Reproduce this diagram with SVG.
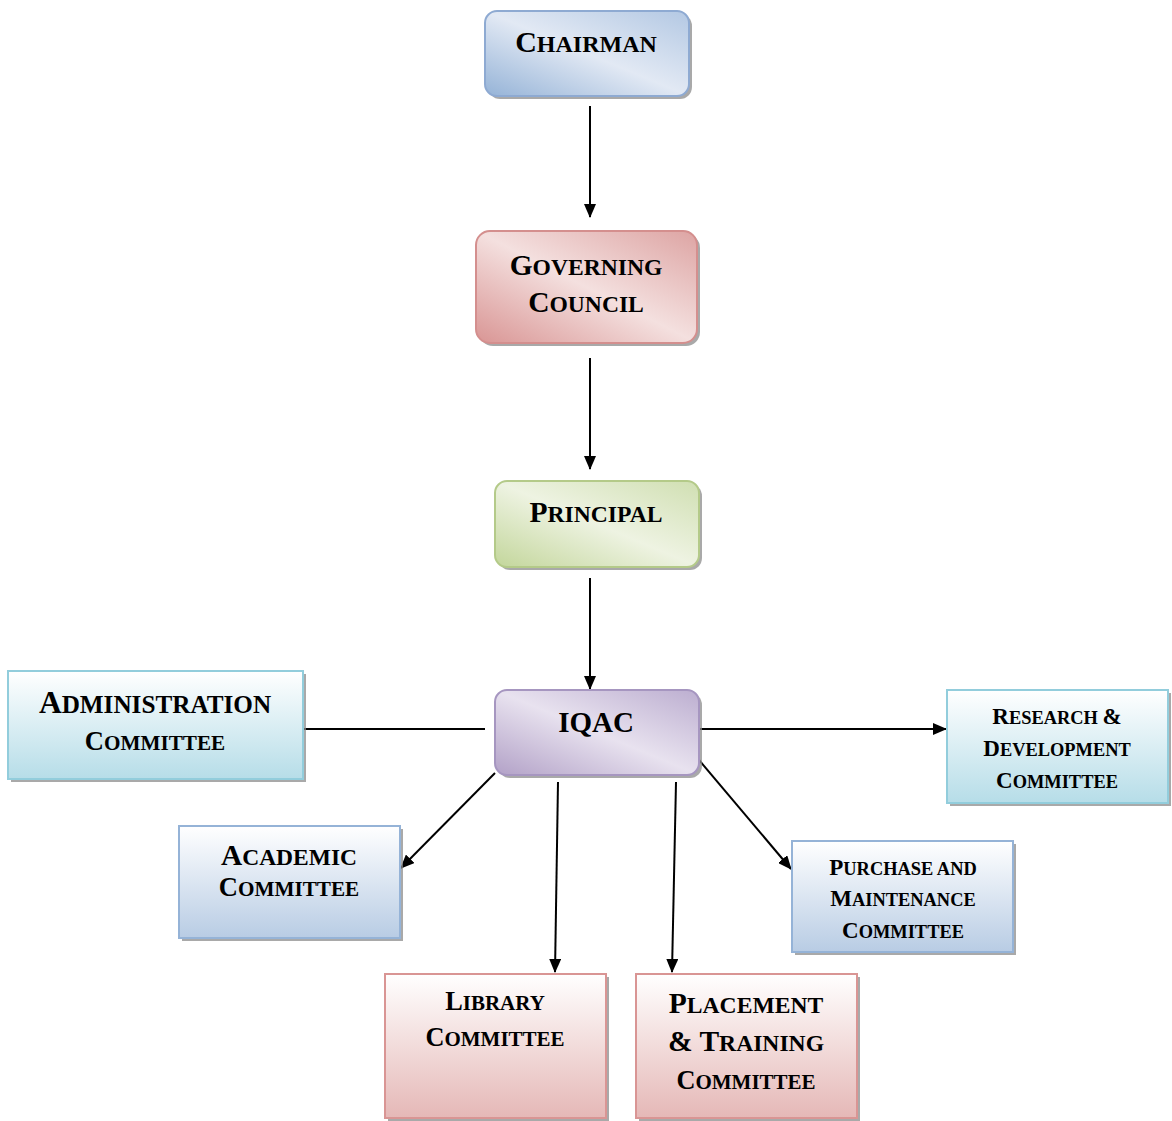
<svg xmlns="http://www.w3.org/2000/svg" width="1172" height="1121" viewBox="0 0 1172 1121">
<style>
text{font-family:"Liberation Serif","Times New Roman",serif;font-weight:bold;fill:#000;text-anchor:middle}
.sh{fill:#8c8c8c;opacity:0.75}
.conn{stroke:#000;stroke-width:2;fill:none}
</style>
<defs>
<linearGradient id="gBlue" x1="0" y1="1" x2="1" y2="0"><stop offset="0" stop-color="#95b3d7"/><stop offset="0.5" stop-color="#e2e9f4"/><stop offset="1" stop-color="#b3c8e3"/></linearGradient>
<linearGradient id="gRed" x1="0" y1="1" x2="1" y2="0"><stop offset="0" stop-color="#d99594"/><stop offset="0.5" stop-color="#f4e0df"/><stop offset="1" stop-color="#dda4a3"/></linearGradient>
<linearGradient id="gGreen" x1="0" y1="1" x2="1" y2="0"><stop offset="0" stop-color="#c3d69b"/><stop offset="0.5" stop-color="#eef3e2"/><stop offset="1" stop-color="#d0dfb2"/></linearGradient>
<linearGradient id="gPurple" x1="0" y1="1" x2="1" y2="0"><stop offset="0" stop-color="#b2a1c7"/><stop offset="0.5" stop-color="#e8e2ef"/><stop offset="1" stop-color="#bcaed0"/></linearGradient>
<linearGradient id="vAqua" x1="0" y1="0" x2="0" y2="1"><stop offset="0" stop-color="#ffffff"/><stop offset="1" stop-color="#b6dde8"/></linearGradient>
<linearGradient id="vBlue" x1="0" y1="0" x2="0" y2="1"><stop offset="0" stop-color="#ffffff"/><stop offset="1" stop-color="#b8cce4"/></linearGradient>
<linearGradient id="vRed" x1="0" y1="0" x2="0" y2="1"><stop offset="0" stop-color="#ffffff"/><stop offset="1" stop-color="#e5b8b7"/></linearGradient>
<marker id="arr" markerWidth="14" markerHeight="12" refX="13" refY="6" orient="auto" markerUnits="userSpaceOnUse"><path d="M0,0 L14,6 L0,12 Z" fill="#000"/></marker>
</defs>

<g id="connectors">
<line class="conn" x1="590" y1="106" x2="590" y2="217" marker-end="url(#arr)"/>
<line class="conn" x1="590" y1="358" x2="590" y2="469" marker-end="url(#arr)"/>
<line class="conn" x1="590" y1="578" x2="590" y2="689" marker-end="url(#arr)"/>
<line class="conn" x1="304" y1="729" x2="485" y2="729"/>
<line class="conn" x1="699" y1="729" x2="946" y2="729" marker-end="url(#arr)"/>
<line class="conn" x1="495" y1="773" x2="401" y2="868" marker-end="url(#arr)"/>
<line class="conn" x1="558" y1="782" x2="555" y2="972" marker-end="url(#arr)"/>
<line class="conn" x1="676" y1="782" x2="672" y2="972" marker-end="url(#arr)"/>
<line class="conn" x1="699" y1="760" x2="791" y2="869" marker-end="url(#arr)"/>
</g>

<g id="chairman">
<rect class="sh" x="488" y="14" width="204" height="85" rx="12"/>
<rect x="485" y="11" width="204" height="85" rx="12" fill="url(#gBlue)" stroke="#8eaad2" stroke-width="2"/>
<text x="586" y="52"><tspan font-size="30">C</tspan><tspan font-size="24">HAIRMAN</tspan></text>
</g>

<g id="governing-council">
<rect class="sh" x="479" y="234" width="221" height="112" rx="14"/>
<rect x="476" y="231" width="221" height="112" rx="14" fill="url(#gRed)" stroke="#d48f8e" stroke-width="2"/>
<text x="586" y="275"><tspan font-size="29.5">G</tspan><tspan font-size="23.6">OVERNING</tspan></text>
<text x="586" y="312"><tspan font-size="29.5">C</tspan><tspan font-size="23.6">OUNCIL</tspan></text>
</g>

<g id="principal">
<rect class="sh" x="498" y="484" width="204" height="86" rx="12"/>
<rect x="495" y="481" width="204" height="86" rx="12" fill="url(#gGreen)" stroke="#b4ca89" stroke-width="2"/>
<text x="596" y="522"><tspan font-size="29.5">P</tspan><tspan font-size="23.6">RINCIPAL</tspan></text>
</g>

<g id="iqac">
<rect class="sh" x="498" y="693" width="204" height="85" rx="12"/>
<rect x="495" y="690" width="204" height="85" rx="12" fill="url(#gPurple)" stroke="#a696c0" stroke-width="2"/>
<text x="596" y="732" font-size="29">IQAC</text>
</g>

<g id="administration-committee">
<rect class="sh" x="11" y="674" width="295" height="108"/>
<rect x="8" y="671" width="295" height="108" fill="url(#vAqua)" stroke="#92cddc" stroke-width="2"/>
<text x="155" y="713"><tspan font-size="31.5">A</tspan><tspan font-size="25.2">DMINISTRATION</tspan></text>
<text x="155" y="750"><tspan font-size="26.5">C</tspan><tspan font-size="21.2">OMMITTEE</tspan></text>
</g>

<g id="research-development-committee">
<rect class="sh" x="950" y="693" width="221" height="113"/>
<rect x="947" y="690" width="221" height="113" fill="url(#vAqua)" stroke="#92cddc" stroke-width="2"/>
<text x="1057" y="724"><tspan font-size="23">R</tspan><tspan font-size="18.4">ESEARCH </tspan><tspan font-size="23">&amp;</tspan></text>
<text x="1057" y="756"><tspan font-size="23">D</tspan><tspan font-size="18.4">EVELOPMENT</tspan></text>
<text x="1057" y="788"><tspan font-size="23">C</tspan><tspan font-size="18.4">OMMITTEE</tspan></text>
</g>

<g id="academic-committee">
<rect class="sh" x="182" y="829" width="221" height="112"/>
<rect x="179" y="826" width="221" height="112" fill="url(#vBlue)" stroke="#95b3d7" stroke-width="2"/>
<text x="289" y="865"><tspan font-size="29.4">A</tspan><tspan font-size="23.5">CADEMIC</tspan></text>
<text x="289" y="896"><tspan font-size="26.5">C</tspan><tspan font-size="21.2">OMMITTEE</tspan></text>
</g>

<g id="purchase-maintenance-committee">
<rect class="sh" x="795" y="844" width="221" height="111"/>
<rect x="792" y="841" width="221" height="111" fill="url(#vBlue)" stroke="#95b3d7" stroke-width="2"/>
<text x="903" y="875"><tspan font-size="23">P</tspan><tspan font-size="18.4">URCHASE AND</tspan></text>
<text x="903" y="906"><tspan font-size="23">M</tspan><tspan font-size="18.4">AINTENANCE</tspan></text>
<text x="903" y="938"><tspan font-size="23">C</tspan><tspan font-size="18.4">OMMITTEE</tspan></text>
</g>

<g id="library-committee">
<rect class="sh" x="388" y="977" width="221" height="144"/>
<rect x="385" y="974" width="221" height="144" fill="url(#vRed)" stroke="#d99594" stroke-width="2"/>
<text x="495" y="1010"><tspan font-size="26.3">L</tspan><tspan font-size="21">IBRARY</tspan></text>
<text x="495" y="1046"><tspan font-size="26.3">C</tspan><tspan font-size="21">OMMITTEE</tspan></text>
</g>

<g id="placement-training-committee">
<rect class="sh" x="639" y="977" width="221" height="144"/>
<rect x="636" y="974" width="221" height="144" fill="url(#vRed)" stroke="#d99594" stroke-width="2"/>
<text x="746" y="1013"><tspan font-size="29.5">P</tspan><tspan font-size="23.6">LACEMENT</tspan></text>
<text x="746" y="1051"><tspan font-size="29.5">&amp; T</tspan><tspan font-size="23.6">RAINING</tspan></text>
<text x="746" y="1089"><tspan font-size="26.3">C</tspan><tspan font-size="21">OMMITTEE</tspan></text>
</g>
</svg>
